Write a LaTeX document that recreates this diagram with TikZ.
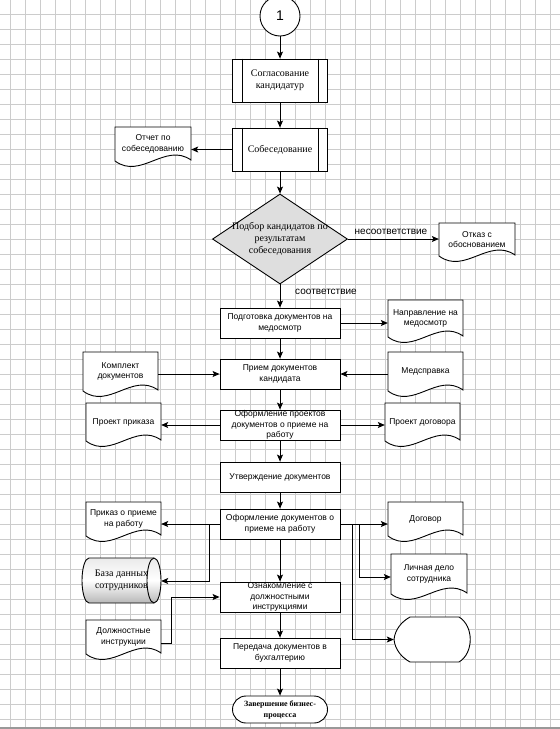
\documentclass[tikz,border=0pt]{standalone}
\usepackage{fontspec}
\setmainfont{Liberation Serif}
\newfontfamily\arialf{Liberation Sans}
\usetikzlibrary{arrows.meta,shapes.geometric}
\tikzset{
  ln/.style={line width=0.9pt, draw=black},
  arr/.style={line width=0.9pt, draw=black, -{Stealth[length=7pt,width=6pt,inset=1.5pt]}},
  gridln/.style={draw=black!20, line width=0.6pt},
  proc/.style={ln, rectangle, fill=white, minimum width=120, minimum height=30, inner xsep=2pt, inner ysep=0pt, align=center, font=\arialf\fontsize{8.5}{10.5}\selectfont},
  pred/.style={ln, rectangle, fill=white, minimum width=95, minimum height=43, inner sep=1pt, align=center, font=\fontsize{10}{11.5}\selectfont},
  docn/.style={rectangle, draw=none, inner sep=1pt, align=center, font=\arialf\fontsize{8.5}{10.5}\selectfont},
  lbl/.style={font=\arialf\fontsize{10}{12}\selectfont, inner sep=0pt},
  termn/.style={ln, rectangle, rounded corners=13.5pt, fill=white, minimum width=95, minimum height=27, inner sep=0pt, align=center, font=\bfseries\fontsize{8}{11}\selectfont},
  decn/.style={ln, diamond, fill=black!13, minimum width=135, minimum height=90, inner sep=0pt},
}
\newcommand\docshape[6]{%
  \filldraw[ln, fill=white] (#2,#5) -- (#2,#3) -- (#4,#3) -- (#4,#5-1)
    .. controls ({#2+0.66*(#4-#2)},#5-19) and ({#2+0.34*(#4-#2)},#5+19) .. (#2,#5) -- cycle;
  \node[docn, minimum width={(#4-#2)*1pt}, minimum height={(#5-#3)*1pt}] (#1) at ({(#2+#4)/2},{(#3+#5)/2}) {#6};
}
\begin{document}
\begin{tikzpicture}[x=1pt,y=-1pt]
\useasboundingbox (0,0) rectangle (560,729);
\fill[white] (0,0) rectangle (560,729);
% grid
\foreach \gx in {10,25,...,555} \draw[gridln] (\gx,0) -- (\gx,729);
\foreach \gy in {14,29,...,725} \draw[gridln] (0,\gy) -- (560,\gy);
\draw[draw=black!40, line width=2pt] (0,727.5) -- (560,727.5);

% main column
\node[ln, circle, fill=white, minimum size=40, inner sep=0pt, font=\arialf\fontsize{14}{16}\selectfont] (circ) at (280,16) {1};
\node[pred] (b1) at (280,80.5) {Согласование\\кандидатур};
\draw[ln] ([xshift=10pt]b1.north west) -- ([xshift=10pt]b1.south west);
\draw[ln] ([xshift=-10pt]b1.north east) -- ([xshift=-10pt]b1.south east);
\node[pred] (b2) at (280,149.5) {Собеседование};
\draw[ln] ([xshift=10pt]b2.north west) -- ([xshift=10pt]b2.south west);
\draw[ln] ([xshift=-10pt]b2.north east) -- ([xshift=-10pt]b2.south east);
\node[decn, label={[align=center, font=\fontsize{10}{12}\selectfont]center:Подбор кандидатов по\\результатам\\собеседования}] (dia) at (280,239) {};
\node[proc] (b3) at (280,323) {Подготовка документов на\\медосмотр};
\node[proc] (b4) at (280,374) {Прием документов\\кандидата};
\node[proc] (b5) at (280,425) {Оформление проектов\\документов о приеме на\\работу};
\node[proc] (b6) at (280,477) {Утверждение документов};
\node[proc] (b7) at (280,524) {Оформление документов о\\приеме на работу};
\node[proc] (b8) at (280,597) {Ознакомление с\\должностными\\инструкциями};
\node[proc] (b9) at (280,653) {Передача документов в\\бухгалтерию};
\node[termn] (term) at (280,709.5) {Завершение бизнес-\\процесса};

% documents
\docshape{d1}{115}{127}{191}{161}{Отчет по\\собеседованию}
\docshape{d2}{439}{223}{515}{256}{Отказ с\\обоснованием}
\docshape{d3}{388}{300}{463}{337}{Направление на\\медосмотр}
\docshape{d4}{83}{352}{158}{391}{Комплект\\документов}
\docshape{d5}{388}{352}{463}{391}{Медсправка}
\docshape{d6}{86}{403}{161}{441}{Проект приказа}
\docshape{d7}{385}{403}{460}{441}{Проект договора}
\docshape{d8}{86}{502}{161}{536}{Приказ о приеме\\на работу}
\docshape{d9}{388}{502}{463}{536}{Договор}
\docshape{d10}{391}{554}{467}{594}{Личная дело\\сотрудника}
\docshape{d11}{86}{620}{161}{654}{Должностные\\инструкции}

% database cylinder
\shade[top color=black!8, bottom color=black!28, middle color=white]
  (89,558) arc[start angle=270, end angle=90, x radius=7, y radius=22.5]
  -- (154,603) arc[start angle=90, end angle=-90, x radius=7, y radius=22.5] -- cycle;
\draw[ln] (89,558) arc[start angle=270, end angle=90, x radius=7, y radius=22.5]
  -- (154,603) arc[start angle=90, end angle=-90, x radius=7, y radius=22.5] -- cycle;
\draw[ln] (154,558) arc[start angle=270, end angle=90, x radius=7, y radius=22.5];
\node[rectangle, draw=none, minimum width=79, minimum height=45, inner sep=0pt, align=center, font=\fontsize{10}{12.5}\selectfont] (cyl) at (121.5,580.5) {База данных\\сотрудников};

% display shape
\filldraw[ln, fill=white] (410,617) -- (459,617) .. controls (474,626) and (474,653) .. (459,662)
  -- (410,662) .. controls (401,657) and (395,649) .. (394,639.5)
  .. controls (395,630) and (401,622) .. (410,617) -- cycle;
\node[rectangle, draw=none, minimum width=76, minimum height=45, inner sep=0pt] (disp) at (432,639.5) {};

% labels
\node[lbl] (l1) at (391,232) {несоответствие};
\node[lbl] (l2) at (326,292) {соответствие};

% connectors
\draw[arr] (circ) -- (b1);
\draw[arr] (b1) -- (b2);
\draw[arr] (b2.west) -- (b2.west -| d1.east);
\draw[arr] (b2) -- (dia.north);
\draw[arr] (dia.east) -- (dia.east -| d2.west);
\draw[arr] (dia.south) -- (b3.north);
\draw[arr] (b3.east) -- (b3.east -| d3.west);
\draw[arr] (b3) -- (b4);
\draw[arr] (b4.west -| d4.east) -- (b4.west);
\draw[arr] (b4.east -| d5.west) -- (b4.east);
\draw[arr] (b4) -- (b5);
\draw[arr] (b5.west) -- (b5.west -| d6.east);
\draw[arr] (b5.east) -- (b5.east -| d7.west);
\draw[arr] (b5) -- (b6);
\draw[arr] (b6) -- (b7);
\draw[arr] (b7.west) -- (b7.west -| d8.east);
\coordinate (j1) at (209,581);
\draw[arr] (b7.west -| j1) -- (j1) -- (j1 -| cyl.east);
\draw[arr] (b7.east) -- (b7.east -| d9.west);
\coordinate (j2) at (359,577);
\draw[arr] (b7.east -| j2) -- (j2) -- (j2 -| d10.west);
\coordinate (j3) at (352,639.5);
\draw[arr] (b7.east -| j3) -- (j3) -- (j3 -| disp.west);
\draw[arr] (b7) -- (b8);
\coordinate (j4) at (171,643);
\draw[arr] (j4 -| d11.east) -- (j4) |- (b8.west);
\draw[arr] (b8) -- (b9);
\draw[arr] (b9) -- (term);
\end{tikzpicture}
\end{document}
